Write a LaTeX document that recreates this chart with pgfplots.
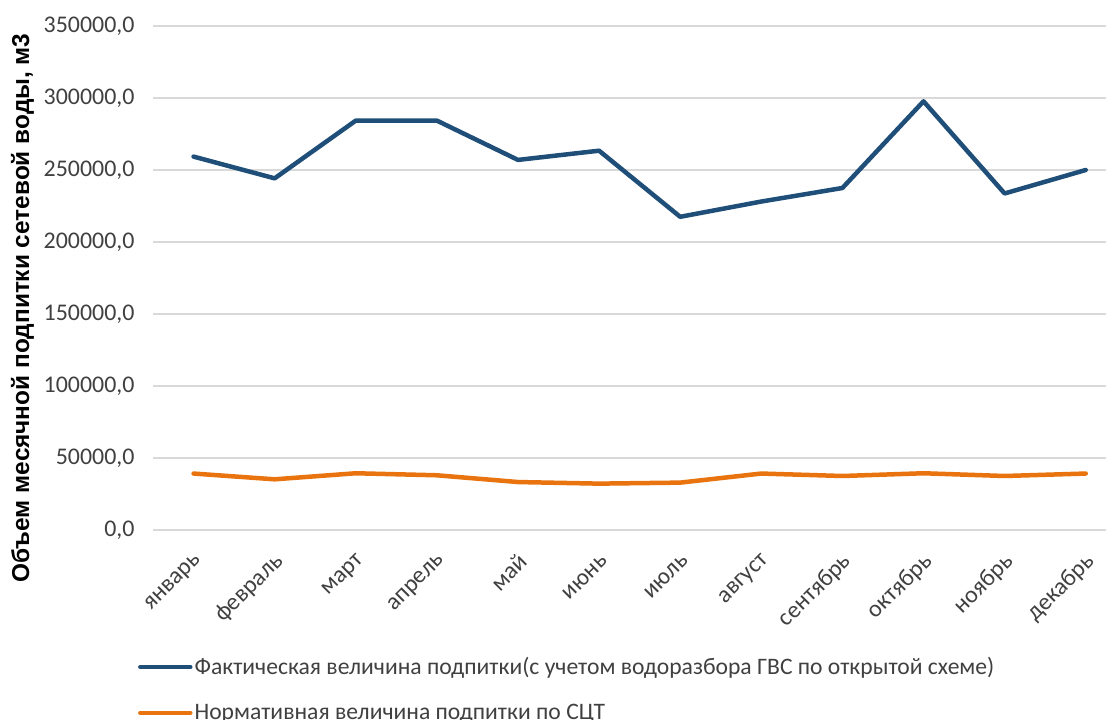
\documentclass[border=0pt]{standalone}
\usepackage{fontspec}
\setmainfont{Carlito}
\newfontfamily\arialf{Liberation Sans}
\usepackage{pgfplots}
\pgfplotsset{compat=1.18}
\definecolor{cblue}{RGB}{31,78,121}
\definecolor{corange}{RGB}{233,115,14}
\definecolor{cgrid}{RGB}{217,217,217}
\definecolor{ctext}{RGB}{64,64,64}
\begin{document}
\begin{tikzpicture}
\begin{axis}[
  scale only axis,
  width=953bp, height=504bp,
  at={(153bp,190bp)}, anchor=south west,
  xmin=-0.5, xmax=11.25,
  ymin=0, ymax=350000,
  scaled y ticks=false,
  xtick={0,1,2,3,4,5,6,7,8,9,10,11},
  xticklabels={январь,февраль,март,апрель,май,июнь,июль,август,сентябрь,октябрь,ноябрь,декабрь},
  ytick={0,50000,100000,150000,200000,250000,300000,350000},
  yticklabels={{0,0},{50000,0},{100000,0},{150000,0},{200000,0},{250000,0},{300000,0},{350000,0}},
  ymajorgrids, grid style={cgrid, line width=1.2bp},
  axis line style={draw=none},
  major tick length=0pt,
  tick label style={font=\fontsize{24}{28}\selectfont, text=ctext},
  yticklabel style={xshift=-15bp},
  xticklabel style={rotate=45, anchor=east, xshift=-12.7bp, yshift=-23.4bp},
  ylabel={Объем месячной подпитки сетевой воды, м3},
  every axis y label/.style={at={(axis description cs:-0.137,0.44)}, rotate=90, anchor=center,
     font=\arialf\bfseries\fontsize{24.5}{28}\selectfont, text=black},
  legend style={at={(axis description cs:-0.019,-0.245)}, anchor=north west, draw=none, fill=none,
     font=\fontsize{23.7}{28}\selectfont, text=ctext, row sep=24bp, nodes={inner xsep=2bp}},
  legend cell align=left,
  legend image code/.code={\draw[#1] (0bp,0bp) -- (50bp,0bp);},
]
\addplot[cblue, line width=4.5bp, line join=round, line cap=round] coordinates {
 (0,259300) (1,244200) (2,284300) (3,284300) (4,257000) (5,263400)
 (6,217500) (7,228100) (8,237500) (9,297700) (10,233700) (11,250000)};
\addlegendentry{Фактическая величина подпитки(с учетом водоразбора ГВС по открытой схеме)}
\addplot[corange, line width=4.5bp, line join=round, line cap=round] coordinates {
 (0,39200) (1,35200) (2,39400) (3,38000) (4,33300) (5,32200)
 (6,32900) (7,39200) (8,37500) (9,39400) (10,37500) (11,39200)};
\addlegendentry{Нормативная величина подпитки по СЦТ}
\end{axis}
\pgfresetboundingbox
\useasboundingbox (0,0) rectangle (1107bp,720bp);
\end{tikzpicture}
\end{document}
